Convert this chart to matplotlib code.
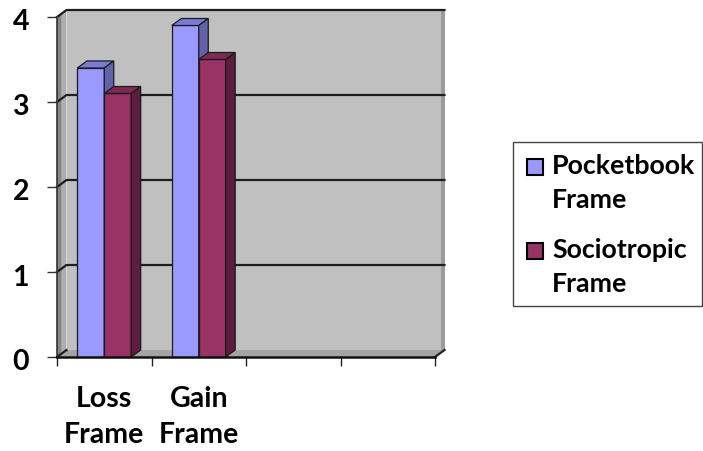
import matplotlib
matplotlib.use("Agg")
import matplotlib.pyplot as plt
from matplotlib import font_manager
import matplotlib.transforms as mtransforms
from matplotlib.patches import Polygon, Rectangle

# ---- data ----
categories = ["Loss\nFrame", "Gain\nFrame"]
n_slots = 4
series_names = ["Pocketbook\nFrame", "Sociotropic\nFrame"]
pocketbook = [3.4, 3.9]
sociotropic = [3.1, 3.5]
yticks = [0, 1, 2, 3, 4]


def pick_bold_family(candidates):
    """Return the first family that ships a real bold face."""
    for fam in candidates:
        for f in font_manager.fontManager.ttflist:
            w = f.weight
            if isinstance(w, str):
                w = {"bold": 700, "heavy": 800, "black": 900,
                     "semibold": 600, "demibold": 600}.get(w, 400)
            if f.name == fam and w >= 600 and f.style == "normal":
                return fam
    return "DejaVu Sans"


FAMILY = pick_bold_family(["Lato", "Roboto", "Open Sans", "Noto Sans",
                           "Liberation Sans", "DejaVu Sans"])
plt.rcParams["font.family"] = [FAMILY, "DejaVu Sans"]
plt.rcParams["font.weight"] = "bold"

front_colors = ["#9999FF", "#993366"]
top_colors = ["#7B7BD6", "#7E2A55"]
side_colors = ["#6262A8", "#5E1D3F"]
wall_color = "#C0C0C0"

W, H = 703, 451
fig = plt.figure(figsize=(W / 100, H / 100), dpi=100)
ax_left, ax_right, ax_bottom, ax_top = 57, 435, 357, 17
ax = fig.add_axes([ax_left / W, (H - ax_bottom) / H,
                   (ax_right - ax_left) / W, (ax_bottom - ax_top) / H])
ymax = yticks[-1]
ax.set_xlim(0, n_slots)
ax.set_ylim(0, ymax)
ax.set_facecolor("none")

# depth of the 3-D box, expressed in data units
px_x = (ax_right - ax_left) / n_slots
px_y = (ax_bottom - ax_top) / ymax
dx = 9.5 / px_x
dy = 7.0 / px_y


def poly(pts, fc, ec="none", lw=0, z=1):
    ax.add_patch(Polygon(pts, closed=True, facecolor=fc, edgecolor=ec,
                         linewidth=lw, zorder=z, clip_on=False,
                         joinstyle="miter"))


# back wall
poly([(dx, dy), (n_slots + dx, dy), (n_slots + dx, ymax + dy), (dx, ymax + dy)],
     wall_color, z=0.5)
# shaded strip on the right edge of the wall
sx = 3.5 / px_x
poly([(n_slots + dx - sx, dy), (n_slots + dx, dy), (n_slots + dx, ymax + dy),
      (n_slots + dx - sx, ymax + dy)], "#9C9C9C", z=0.55)
# left side wall (two tones)
poly([(0, 0), (dx / 2, dy / 2), (dx / 2, ymax + dy / 2), (0, ymax)], "#858585", z=0.6)
poly([(dx / 2, dy / 2), (dx, dy), (dx, ymax + dy), (dx / 2, ymax + dy / 2)], "#AEAEAE", z=0.6)
# floor
poly([(0, 0), (n_slots, 0), (n_slots + dx, dy), (dx, dy)], "#A4A4A4", z=0.7)
ax.plot([n_slots, n_slots + dx], [0, dy], color="#222222", lw=1.6,
        zorder=0.9, clip_on=False)

# gridlines on the side and back walls
for yv in yticks:
    xs = [0, dx] if yv == 0 else [0, dx, n_slots + dx]
    ys = [yv, yv + dy] if yv == 0 else [yv, yv + dy, yv + dy]
    ax.plot(xs, ys, color="#1E1E1E", lw=1.6, zorder=1, clip_on=False,
            solid_joinstyle="miter")

# clustered 3-D columns
bar_w = 0.285
series = [pocketbook, sociotropic]
z = 2
for i in range(len(categories)):
    for j, vals in enumerate(series):
        v = vals[i]
        x0 = i + 0.5 + (j - 1) * bar_w
        ax.bar(x0, v, width=bar_w, align="edge", color=front_colors[j],
               edgecolor="#1A1A1A", linewidth=0.9, zorder=z, clip_on=False)
        poly([(x0, v), (x0 + bar_w, v), (x0 + bar_w + dx, v + dy), (x0 + dx, v + dy)],
             top_colors[j], "#1A1A1A", 0.9, z + 0.1)
        poly([(x0 + bar_w, 0), (x0 + bar_w + dx, dy), (x0 + bar_w + dx, v + dy),
              (x0 + bar_w, v)], side_colors[j], "#1A1A1A", 0.9, z + 0.1)
        z += 1

# axes lines and ticks
for s in ["top", "right"]:
    ax.spines[s].set_visible(False)
ax.spines["left"].set_color("#333333")
ax.spines["left"].set_linewidth(1.2)
ax.spines["bottom"].set_color("#111111")
ax.spines["bottom"].set_linewidth(1.8)
ax.spines["left"].set_zorder(20)
ax.spines["bottom"].set_zorder(20)

ax.set_yticks(yticks)
ax.set_yticklabels([str(t) for t in yticks], fontsize=20.5, fontweight="bold")
ax.tick_params(axis="y", length=7.2, width=1.0, color="#333333", pad=13)
shift_down = mtransforms.ScaledTranslation(0, -3 / 100, fig.dpi_scale_trans)
for lbl in ax.get_yticklabels():
    lbl.set_transform(lbl.get_transform() + shift_down)

ax.set_xticks(range(n_slots + 1))
ax.set_xticklabels([])
ax.tick_params(axis="x", which="major", length=6.5, width=1.0, color="#222222")
ax.set_xticks([i + 0.5 for i in range(len(categories))], minor=True)
ax.set_xticklabels(categories, minor=True, fontsize=20.5, fontweight="bold",
                   linespacing=1.45)
ax.tick_params(axis="x", which="minor", length=0, pad=21)


# legend box (figure pixel positions)
def fx(px):
    return px / W


def fy(py):
    return 1 - py / H


fig.patches.append(Rectangle((fx(513), fy(306)), fx(702) - fx(513), fy(142) - fy(306),
                             transform=fig.transFigure, facecolor="white",
                             edgecolor="#444444", linewidth=1.0, zorder=5))
for k, name in enumerate(series_names):
    base = 174 + k * 84
    fig.patches.append(Rectangle((fx(527), fy(base + 1)), fx(16), 16 / H,
                                 transform=fig.transFigure,
                                 facecolor=front_colors[k], edgecolor="black",
                                 linewidth=1.5, zorder=6))
    for n, line in enumerate(name.split("\n")):
        fig.text(fx(552), fy(base + n * 34), line, ha="left", va="baseline",
                 fontsize=19.3, fontweight="bold", zorder=7)

fig.savefig("out.png", dpi=100)
